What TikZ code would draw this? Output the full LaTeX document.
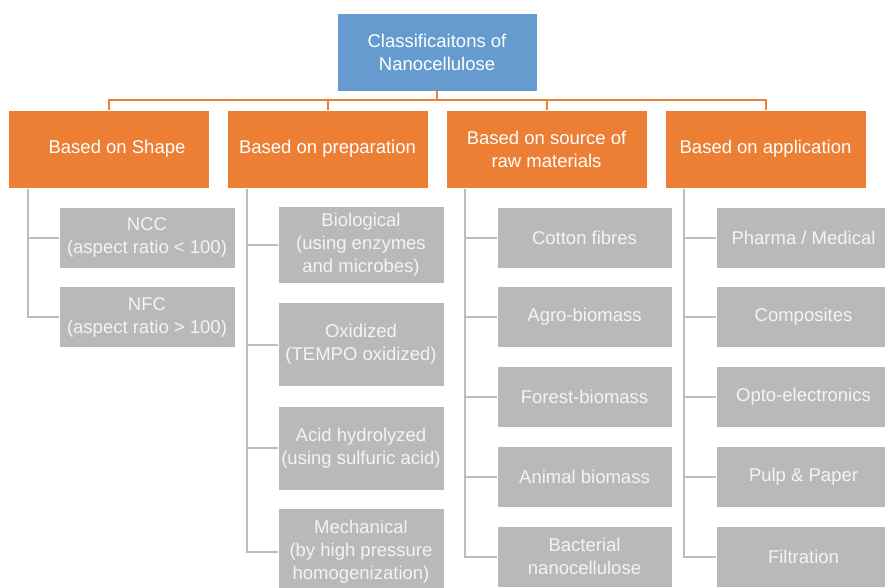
\documentclass[tikz,border=0pt]{standalone}
\usepackage{fontspec}
\setmainfont{Liberation Sans}
\definecolor{topblue}{HTML}{659BCE}
\definecolor{catorange}{HTML}{EC7F34}
\definecolor{leafgrey}{HTML}{B9B9B9}
\definecolor{leaftext}{HTML}{F4F4F4}
\definecolor{treegrey}{HTML}{BDBDBD}
\tikzset{
  base/.style={draw=white, line width=0.6pt, inner sep=0pt, align=center, text=white,
    font=\fontsize{18.5}{23}\selectfont},
  topbox/.style={base, fill=topblue, minimum width=200pt, minimum height=78pt},
  catbox/.style={base, fill=catorange, minimum width=201pt, minimum height=78pt},
  leafbox/.style={base, fill=leafgrey, text=leaftext},
  busline/.style={draw=catorange, line width=2pt},
  treeline/.style={draw=treegrey, line width=2pt},
}
\begin{document}
\begin{tikzpicture}[x=1pt,y=-1pt]
\useasboundingbox[fill=white] (0,0) rectangle (885,587);
% top
\node[topbox] (top) at (437,52) {Classificaitons of\\Nanocellulose};
% categories
\node[catbox] (c1) at (108.5,149) {\hspace*{17pt}Based on Shape};
\node[catbox] (c2) at (327.5,149) {Based on preparation};
\node[catbox] (c3) at (546.5,149) {Based on source of\\raw materials};
\node[catbox] (c4) at (765.5,149) {Based on application};
% bus
\coordinate (bus) at (0,100);
\draw[busline] (c1.north) |- (bus -| c4.north) -- (c4.north);
\draw[busline] (top.south) -- (top.south |- bus);
\draw[busline] (c2.north) -- (c2.north |- bus);
\draw[busline] (c3.north) -- (c3.north |- bus);
% shape leaves
\node[leafbox, minimum width=176pt, minimum height=61pt] (s1) at (147,237.5) {NCC\\(aspect ratio < 100)};
\node[leafbox, minimum width=176pt, minimum height=61pt] (s2) at (147,317) {NFC\\(aspect ratio > 100)};
% preparation leaves
\node[leafbox, minimum width=166pt, minimum height=77pt] (p1) at (361,245) {Biological\\(using enzymes\\and microbes)};
\node[leafbox, minimum width=166pt, minimum height=84pt] (p2) at (361,344.5) {Oxidized\\(TEMPO oxidized)};
\node[leafbox, minimum width=166pt, minimum height=84pt] (p3) at (361,448) {Acid hydrolyzed\\(using sulfuric acid)};
\node[leafbox, minimum width=166pt, minimum height=88pt] (p4) at (361,552) {Mechanical\\(by high pressure\\homogenization)};
% source leaves
\node[leafbox, minimum width=175pt, minimum height=61pt] (r1) at (584.5,237.5) {Cotton fibres};
\node[leafbox, minimum width=175pt, minimum height=61pt] (r2) at (584.5,317) {Agro-biomass};
\node[leafbox, minimum width=175pt, minimum height=61pt] (r3) at (584.5,397) {Forest-biomass};
\node[leafbox, minimum width=175pt, minimum height=61pt] (r4) at (584.5,477) {Animal biomass};
\node[leafbox, minimum width=175pt, minimum height=61pt] (r5) at (584.5,556.5) {Bacterial\\nanocellulose};
% application leaves
\node[leafbox, minimum width=175pt, minimum height=61pt] (a1) at (803.5,237.5) {Pharma / Medical};
\node[leafbox, minimum width=175pt, minimum height=61pt] (a2) at (803.5,317) {Composites};
\node[leafbox, minimum width=175pt, minimum height=61pt] (a3) at (803.5,397) {Opto-electronics};
\node[leafbox, minimum width=175pt, minimum height=61pt] (a4) at (803.5,477) {Pulp \& Paper};
\node[leafbox, minimum width=175pt, minimum height=61pt] (a5) at (803.5,556.5) {Filtration};
% tree lines
\coordinate (t1) at (28,188.5);
\coordinate (t2) at (247,188.5);
\coordinate (t3) at (465,188.5);
\coordinate (t4) at (684,188.5);
\draw[treeline] (t1) |- (s2.west);
\draw[treeline] (t1 |- s1.west) -- (s1.west);
\draw[treeline] (t2) |- (p4.west);
\foreach \n in {p1,p2,p3} \draw[treeline] (t2 |- \n.west) -- (\n.west);
\draw[treeline] (t3) |- (r5.west);
\foreach \n in {r1,r2,r3,r4} \draw[treeline] (t3 |- \n.west) -- (\n.west);
\draw[treeline] (t4) |- (a5.west);
\foreach \n in {a1,a2,a3,a4} \draw[treeline] (t4 |- \n.west) -- (\n.west);
\end{tikzpicture}
\end{document}
